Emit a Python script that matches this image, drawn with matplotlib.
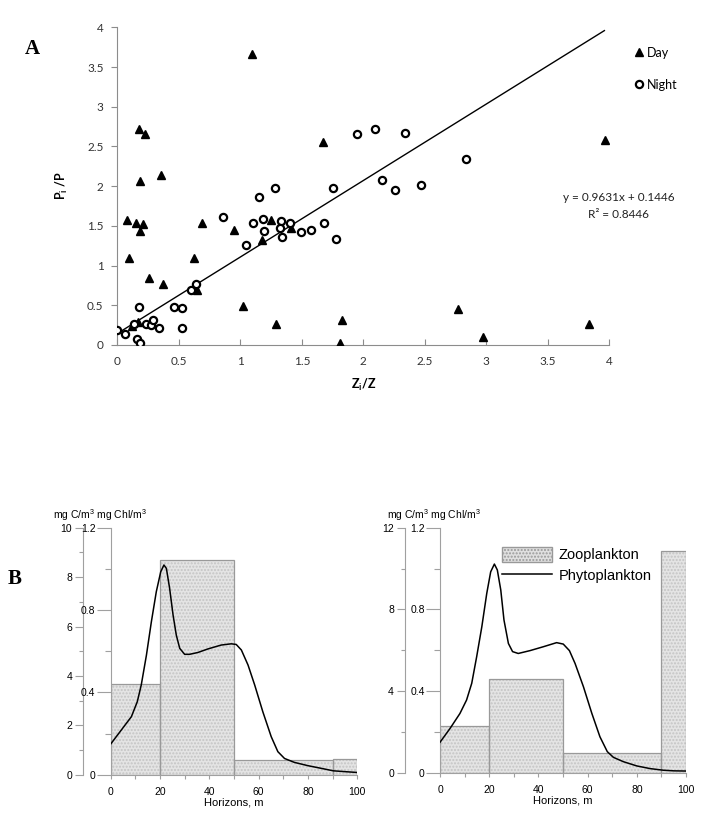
import matplotlib.pyplot as plt
from matplotlib.lines import Line2D
from matplotlib.patches import Patch

plt.rcParams['font.family'] = ['Liberation Sans', 'DejaVu Sans']

# ---- panel A data ----
day_x = [1.092, 0.179, 0.225, 0.358, 0.184, 0.081, 0.149, 0.211, 0.184, 0.686,
         0.951, 1.249, 1.173, 1.412, 1.669, 0.098, 0.626, 0.255, 0.371, 0.648,
         1.022, 1.287, 1.824, 1.810, 0.122, 0.171, 3.962, 2.767, 2.973, 3.838]
day_y = [3.66, 2.72, 2.66, 2.14, 2.07, 1.57, 1.54, 1.52, 1.43, 1.54,
         1.45, 1.58, 1.32, 1.47, 2.56, 1.10, 1.10, 0.84, 0.77, 0.69,
         0.49, 0.26, 0.31, 0.03, 0.24, 0.29, 2.58, 0.45, 0.105, 0.26]
night_x = [0.0, 0.065, 0.138, 0.157, 0.187, 0.176, 0.233, 0.274, 0.287, 0.339,
           0.458, 0.528, 0.526, 0.602, 0.642, 0.856, 1.043, 1.100, 1.154, 1.184,
           1.195, 1.285, 1.328, 1.320, 1.336, 1.407, 1.493, 1.575, 1.678, 1.756,
           1.778, 1.946, 2.095, 2.339, 2.155, 2.260, 2.469, 2.835]
night_y = [0.19, 0.14, 0.26, 0.08, 0.03, 0.48, 0.26, 0.25, 0.31, 0.21,
           0.48, 0.46, 0.21, 0.69, 0.77, 1.61, 1.26, 1.54, 1.86, 1.59,
           1.43, 1.98, 1.56, 1.47, 1.36, 1.53, 1.42, 1.45, 1.54, 1.98,
           1.33, 2.66, 2.72, 2.67, 2.08, 1.95, 2.01, 2.34]
slope, intercept = 0.9631, 0.1446
fit_x = [0.0, 3.96]

# ---- panel B data ----
bar_left = [0, 20, 50, 90]
bar_width = [20, 30, 40, 10]
zoo_left = [3.66, 8.70, 0.61, 0.64]
zoo_right = [2.29, 4.57, 0.95, 10.87]

phyto_left_x = [0, 4.3, 8.4, 10.8, 12.4, 14.5, 16.5, 18.5, 20.3, 21.6, 22.6, 23.9, 25.3,
                26.6, 28.0, 30.0, 32.0, 35.4, 39.4, 44.8, 48.9, 50.9, 53.0, 55.7, 58.4,
                61.7, 65.1, 67.8, 70.5, 74.5, 80, 85, 90.3, 95, 100]
phyto_left_y = [0.149, 0.217, 0.282, 0.355, 0.436, 0.581, 0.743, 0.889, 0.986, 1.019,
                1.002, 0.906, 0.776, 0.679, 0.614, 0.585, 0.585, 0.594, 0.611, 0.630,
                0.636, 0.633, 0.606, 0.533, 0.436, 0.306, 0.185, 0.112, 0.079, 0.060,
                0.044, 0.032, 0.019, 0.015, 0.011]
phyto_right_x = [0, 4.1, 8.1, 10.8, 12.9, 14.9, 17.0, 19.0, 20.6, 22.1, 23.3, 24.7, 26.0,
                 27.8, 29.5, 31.8, 36.6, 42.0, 47.4, 50.1, 52.6, 54.9, 58.3, 61.7, 65.0,
                 68.0, 70.5, 74.5, 80, 85.4, 90.8, 95, 100]
phyto_right_y = [0.149, 0.217, 0.290, 0.356, 0.438, 0.568, 0.715, 0.878, 0.984, 1.022,
                 0.993, 0.895, 0.748, 0.633, 0.593, 0.584, 0.598, 0.617, 0.637, 0.630,
                 0.598, 0.535, 0.421, 0.291, 0.176, 0.103, 0.075, 0.054, 0.033, 0.020,
                 0.012, 0.009, 0.008]

grey = '#8c8c8c'

fig = plt.figure(figsize=(7.09, 8.22), dpi=100)

# ================= panel A =================
axA = fig.add_axes([0.1655, 0.5803, 0.6939, 0.3865])
axA.plot(fit_x, [slope * v + intercept for v in fit_x], color='black', lw=1.0, zorder=1)
axA.plot(day_x, day_y, '^', color='black', ms=5.5, ls='none', zorder=3)
axA.plot(night_x, night_y, 'o', mfc='white', mec='black', mew=1.6, ms=5.2, ls='none', zorder=3)
axA.set_xlim(0, 4)
axA.set_ylim(0, 4)
axA.set_xticks([0, 0.5, 1, 1.5, 2, 2.5, 3, 3.5, 4])
axA.set_xticklabels(['0', '0.5', '1', '1.5', '2', '2.5', '3', '3.5', '4'])
axA.set_yticks([0, 0.5, 1, 1.5, 2, 2.5, 3, 3.5, 4])
axA.set_yticklabels(['0', '0.5', '1', '1.5', '2', '2.5', '3', '3.5', '4'])
for s in ['top', 'right']:
    axA.spines[s].set_visible(False)
for s in ['left', 'bottom']:
    axA.spines[s].set_color(grey)
axA.tick_params(axis='x', direction='in', length=4, color=grey, labelsize=8.5, pad=8,
                labelcolor='#333333')
axA.tick_params(axis='y', direction='out', length=4, color=grey, labelsize=8.5, pad=6,
                labelcolor='#333333')
for lbl in axA.get_xticklabels() + axA.get_yticklabels():
    lbl.set_fontfamily('Lato')
axA.set_xlabel('Z$_\\mathregular{i}$/Z', fontsize=9, fontweight='bold', family='Lato',
               labelpad=7)
axA.set_ylabel('P$_\\mathregular{i}$ /P', fontsize=9, fontweight='bold', family='Lato',
               labelpad=12)
axA.text(0.873, 0.7595, 'y = 0.9631x + 0.1446', transform=fig.transFigure, ha='center',
         va='center', fontsize=8.5, family='Lato', color='#222222')
axA.text(0.873, 0.7393, 'R² = 0.8446', transform=fig.transFigure, ha='center',
         va='center', fontsize=8.5, family='Lato', color='#222222')
handles = [Line2D([], [], marker='^', color='black', ls='none', ms=5.5),
           Line2D([], [], marker='o', mfc='white', mec='black', mew=1.6, ls='none', ms=5.2)]
leg = fig.legend(handles, ['Day', 'Night'], loc='upper left', bbox_to_anchor=(0.88, 0.957),
                 frameon=False, handlelength=0.6, handletextpad=0.3, labelspacing=1.6,
                 prop={'family': 'Lato', 'size': 9})
fig.text(0.045, 0.94, 'A', fontsize=15, fontweight='bold', family='Liberation Serif',
         ha='center', va='center')
fig.text(0.02, 0.296, 'B', fontsize=15, fontweight='bold', family='Liberation Serif',
         ha='center', va='center')


# ================= panel B =================
def panel_b(rect, zoo, px, py, ctop, cticks, cminor, offset, legend=False):
    ax = fig.add_axes(rect)
    # stipple fill
    ax.bar(bar_left, zoo, width=bar_width, align='edge', color='#e4e4e4',
           edgecolor='#c4c4c4', hatch='.....', linewidth=0, zorder=1)
    ax.bar(bar_left, zoo, width=bar_width, align='edge', fill=False,
           edgecolor='#999999', linewidth=0.9, zorder=2)
    ax.set_xlim(0, 100)
    ax.set_ylim(0, ctop)
    ax.set_xticks([0, 20, 40, 60, 80, 100])
    ax.set_xticks([10, 30, 50, 70, 90], minor=True)
    ax.set_yticks(cticks)
    ax.set_yticks(cminor, minor=True)
    for s in ['top', 'right', 'bottom']:
        ax.spines[s].set_visible(False)
    ax.spines['left'].set_position(('axes', offset))
    ax.spines['left'].set_color('#a0a0a0')
    ax.tick_params(axis='both', which='both', color='#a0a0a0', labelsize=7.5, width=0.8)
    ax.tick_params(axis='x', which='both', length=3, pad=6)
    ax.tick_params(axis='y', which='major', length=6, pad=2)
    ax.tick_params(axis='y', which='minor', length=3)
    ax.set_xlabel('Horizons, m', fontsize=8, labelpad=0)
    ax.axhline(0, color='#a0a0a0', lw=0.8, zorder=3, clip_on=False)

    ax2 = ax.twinx()
    ax2.plot(px, py, color='black', lw=1.1, zorder=4)
    ax2.set_ylim(0, 1.2)
    ax2.set_yticks([0, 0.4, 0.8, 1.2])
    ax2.set_yticklabels(['0', '0.4', '0.8', '1.2'])
    ax2.set_yticks([0.2, 0.6, 1.0], minor=True)
    ax2.yaxis.set_ticks_position('left')
    ax2.yaxis.set_label_position('left')
    for s in ['top', 'right', 'bottom']:
        ax2.spines[s].set_visible(False)
    ax2.spines['left'].set_visible(True)
    ax2.spines['left'].set_color('#a0a0a0')
    ax2.tick_params(axis='y', which='both', color='#a0a0a0', labelsize=7.5, width=0.8)
    ax2.tick_params(axis='y', which='major', length=10, pad=1)
    ax2.tick_params(axis='y', which='minor', length=4)

    if legend:
        hs = [Patch(facecolor='#e0e0e0', edgecolor='#999999', hatch='.....'),
              Line2D([], [], color='black', lw=1.1)]
        ax2.legend(hs, ['Zooplankton', 'Phytoplankton'], loc='upper left',
                   bbox_to_anchor=(0.2, 0.975), frameon=False, fontsize=10.5,
                   handlelength=3.4, handleheight=1.2, handletextpad=0.45,
                   labelspacing=0.35)
    return ax, ax2


panel_b([0.1561, 0.0575, 0.3478, 0.3005], zoo_left, phyto_left_x, phyto_left_y,
        10, [0, 2, 4, 6, 8, 10], [1, 3, 5, 7, 9], -0.111)
panel_b([0.6206, 0.06, 0.347, 0.298], zoo_right, phyto_right_x, phyto_right_y,
        12, [0, 4, 8, 12], [2, 6, 10], -0.142, legend=True)

fig.text(0.075, 0.373, 'mg C/m$^\\mathregular{3}$ mg Chl/m$^\\mathregular{3}$', fontsize=7.5,
         va='center')
fig.text(0.546, 0.373, 'mg C/m$^\\mathregular{3}$ mg Chl/m$^\\mathregular{3}$', fontsize=7.5,
         va='center')

fig.savefig('out.png', dpi=100)
